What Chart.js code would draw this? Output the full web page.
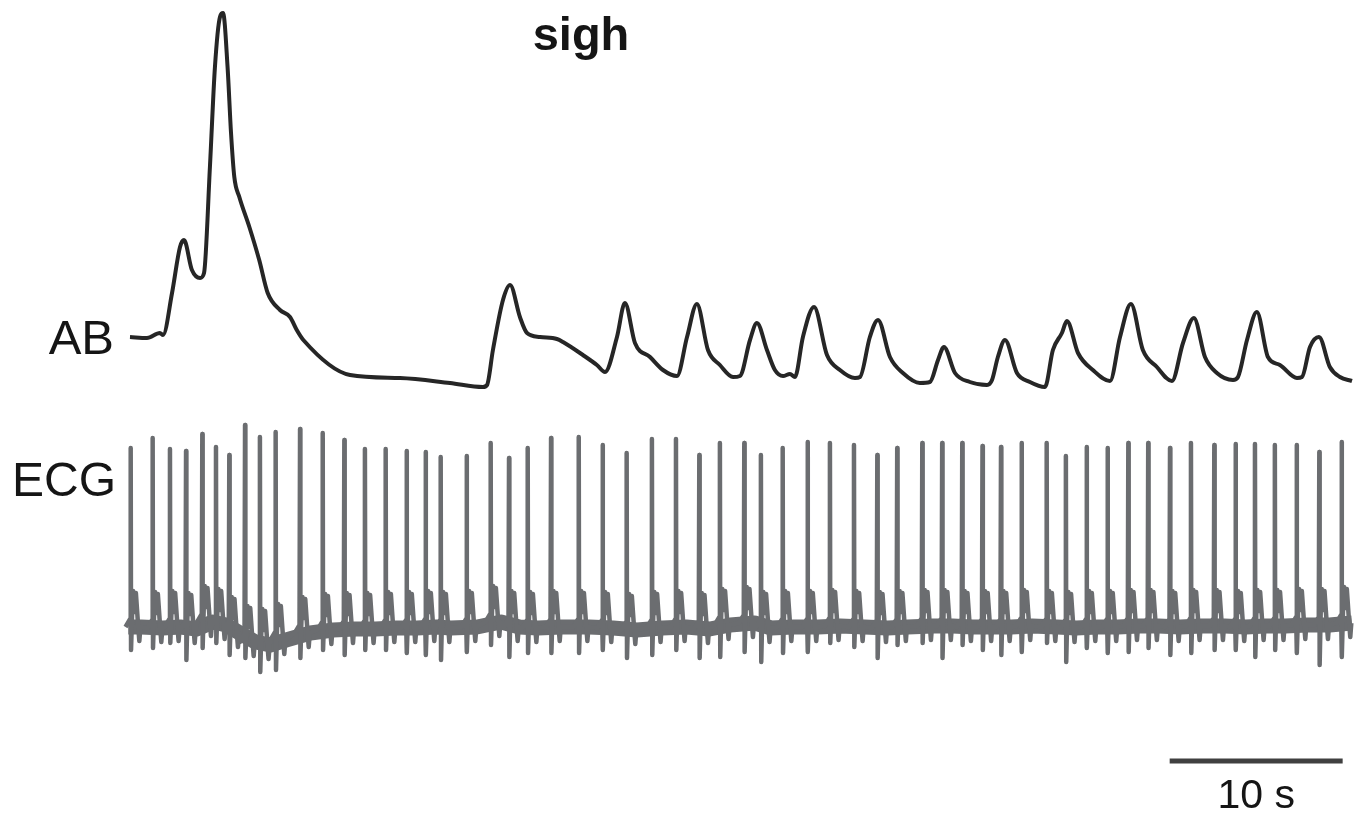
<!DOCTYPE html>
<html>
<head>
<meta charset="utf-8">
<style>
  html, body { margin: 0; padding: 0; background: #ffffff; }
  #wrap { width: 1361px; height: 813px; position: relative; }
</style>
<script src="https://cdn.jsdelivr.net/npm/chart.js@4/dist/chart.umd.min.js"></script>
</head>
<body>
<div id="wrap"><canvas id="c"></canvas></div>
<script>
// ---------- Data (time in seconds, amplitudes in arbitrary units) ----------
const titleText = 'sigh';
const abLabel = 'AB';
const ecgLabel = 'ECG';

// Abdominal (AB) trace
const abTime = [
  0, 0.98, 1.73, 1.91, 2.43, 2.89, 3.12, 3.58, 4.05, 4.28,
  4.62, 4.91, 5.20, 5.38, 5.64, 5.84, 6.03, 6.32, 6.90, 7.47,
  7.96, 8.67, 9.25, 9.64, 10.02, 12.72, 15.61, 18.50, 20.40, 20.64,
  20.98, 21.56, 21.97, 22.54, 22.95, 23.70, 24.68, 25.03, 26.18, 26.99,
  27.46, 28.15, 28.61, 29.19, 30.06, 30.81, 31.62, 32.20, 32.77, 33.41,
  34.10, 34.86, 35.26, 35.84, 36.24, 36.82, 37.28, 37.75, 38.15, 38.44,
  38.90, 39.54, 40.29, 41.04, 41.91, 42.20, 42.77, 43.24, 43.93, 44.68,
  45.66, 46.24, 46.71, 47.05, 47.69, 48.55, 49.54, 49.83, 50.17, 50.58,
  51.27, 52.02, 52.89, 53.35, 53.87, 54.16, 54.80, 55.66, 56.65, 57.23,
  57.86, 58.55, 59.36, 60.23, 60.87, 61.50, 62.14, 62.83, 63.76, 64.05,
  64.57, 65.14, 65.78, 66.47, 67.46, 67.75, 68.21, 68.73, 69.36, 69.94,
  70.64
];
const abValue = [
  4.3, 4.2, 4.7, 4.5, 8.7, 13.3, 14.0, 11.0, 10.2, 10.7,
  21.3, 31.3, 36.3, 36.7, 31.3, 24.7, 20.3, 18.3, 15.3, 12.0,
  8.7, 7.0, 6.3, 5.0, 4.0, 0.5, 0.2, -0.3, -0.7, -0.5,
  3.0, 8.0, 9.5, 6.3, 4.7, 4.3, 4.1, 3.8, 2.5, 1.5,
  0.8, 4.3, 7.7, 3.7, 2.3, 1.0, 0.4, 4.3, 7.6, 3.0,
  1.5, 0.3, 0.4, 4.0, 5.7, 3.0, 1.0, 0.4, 0.6, 0.3,
  4.3, 7.3, 2.5, 1.0, 0.2, 0.3, 4.3, 6.0, 2.3, 0.7,
  -0.3, -0.2, 2.0, 3.3, 0.7, -0.2, -0.5, 0.0, 2.3, 4.0,
  0.7, -0.2, -0.7, 3.0, 4.7, 5.9, 2.7, 1.0, -0.1, 4.3,
  7.6, 3.0, 1.3, -0.1, 3.7, 6.2, 2.3, 0.7, 0.0, 0.3,
  4.0, 6.8, 2.3, 1.5, 0.2, 0.3, 3.3, 4.3, 1.3, 0.3,
  -0.1
];

// ECG beats: R-peak time, R-peak top, S-trough bottom, local baseline
const ecgBeatTime = [
  0.04, 1.31, 2.31, 3.24, 4.18, 4.97, 5.74, 6.65, 7.51, 8.42,
  9.83, 11.14, 12.39, 13.58, 14.78, 15.99, 17.09, 17.96, 19.46, 20.85,
  21.91, 22.99, 24.34, 25.94, 27.32, 28.71, 30.17, 31.56, 32.91, 34.10,
  35.51, 36.47, 37.73, 39.17, 40.46, 41.85, 43.20, 44.35, 45.80, 46.95,
  48.11, 49.28, 50.35, 51.54, 52.99, 54.10, 55.30, 56.51, 57.71, 58.86,
  60.12, 61.33, 62.68, 63.91, 65.03, 66.18, 67.44, 68.75, 70.04
];
const ecgBeatTop = [
  18.2, 19.2, 18.1, 17.9, 19.6, 18.3, 17.5, 20.5, 19.3, 19.8,
  20.1, 19.7, 19.0, 18.1, 18.1, 17.9, 17.8, 17.3, 17.4, 18.7,
  17.2, 18.2, 19.2, 19.3, 18.5, 17.7, 19.1, 19.1, 17.5, 18.7,
  18.7, 17.5, 18.2, 18.8, 18.7, 18.5, 17.5, 18.2, 18.7, 18.7,
  18.7, 18.4, 18.3, 18.7, 18.7, 17.4, 18.3, 18.2, 18.7, 18.7,
  18.2, 18.7, 18.5, 18.6, 18.6, 18.5, 18.5, 17.8, 18.8
];
const ecgBeatBottom = [
  -2.0, -1.8, -1.3, -3.0, -1.8, -1.3, -2.5, -2.8, -4.2, -4.0,
  -2.8, -2.0, -2.5, -2.0, -2.0, -2.3, -2.5, -3.0, -2.2, -1.5,
  -2.7, -2.3, -2.3, -2.3, -2.0, -2.8, -2.5, -2.0, -2.8, -2.7,
  -2.2, -3.2, -2.3, -2.2, -1.3, -1.7, -2.8, -1.5, -1.3, -2.8,
  -1.5, -2.0, -2.5, -2.2, -1.3, -3.2, -1.8, -2.3, -2.2, -1.8,
  -2.5, -2.3, -2.0, -2.0, -2.7, -2.0, -2.3, -3.5, -2.7
];
const ecgBeatBase = [
  0.3, 0.2, 0.3, 0.1, 0.8, 0.5, -0.3, -1.2, -1.5, -1.0,
  -0.3, 0.0, 0.1, 0.1, 0.2, 0.2, 0.3, 0.2, 0.3, 0.8,
  0.3, 0.2, 0.3, 0.3, 0.2, 0.0, 0.2, 0.3, 0.1, 0.5,
  0.7, 0.2, 0.3, 0.3, 0.4, 0.3, 0.2, 0.3, 0.4, 0.4,
  0.3, 0.3, 0.3, 0.4, 0.3, 0.2, 0.3, 0.3, 0.4, 0.4,
  0.3, 0.4, 0.4, 0.3, 0.4, 0.4, 0.5, 0.5, 0.7
];

// 10 s scale bar
const scaleBarTime = [60.1, 70.1];
const scaleBarLabel = '10 s';

// ---------- Build library tables ----------
const abPoints = abTime.map((t, i) => ({ x: t, y: abValue[i] }));

const ecgPoints = [];
ecgBeatTime.forEach((t, i) => {
  const b = ecgBeatBase[i];
  ecgPoints.push({ x: t - 0.30, y: b });
  ecgPoints.push({ x: t - 0.03, y: b + 0.8 });
  ecgPoints.push({ x: t, y: ecgBeatTop[i] });
  ecgPoints.push({ x: t + 0.02, y: ecgBeatBottom[i] });
  ecgPoints.push({ x: t + 0.08, y: b + 1.2 });
  ecgPoints.push({ x: t + 0.14, y: b + 3.6 });
  ecgPoints.push({ x: t + 0.22, y: b + 1.5 });
  ecgPoints.push({ x: t + 0.30, y: b + 3.4 });
  ecgPoints.push({ x: t + 0.42, y: b + 0.4 });
  ecgPoints.push({ x: t + 0.50, y: b - 1.4 });
  ecgPoints.push({ x: t + 0.56, y: b });
});
const ecgBand = ecgBeatTime.map((t, i) => ({ x: t + 0.6, y: ecgBeatBase[i] }));
ecgBand.unshift({ x: -0.1, y: ecgBeatBase[0] });

const scaleBarPoints = scaleBarTime.map(t => ({ x: t, y: -13.1 }));

// ---------- Text plugin ----------
const textPlugin = {
  id: 'texts',
  afterDatasetsDraw(chart) {
    const ctx = chart.ctx;
    const xs = chart.scales.x;
    ctx.save();
    ctx.fillStyle = '#151515';
    ctx.textBaseline = 'alphabetic';
    ctx.font = 'bold 47px "Liberation Sans", Arial, sans-serif';
    ctx.textAlign = 'center';
    ctx.fillText(titleText, 581, 50);
    ctx.font = '49px "Liberation Sans", Arial, sans-serif';
    ctx.textAlign = 'right';
    ctx.fillText(abLabel, 114, 354);
    ctx.font = '48px "Liberation Sans", Arial, sans-serif';
    ctx.fillText(ecgLabel, 116, 496);
    ctx.font = '41px "Liberation Sans", Arial, sans-serif';
    ctx.textAlign = 'center';
    ctx.fillText(scaleBarLabel, xs.getPixelForValue((scaleBarTime[0] + scaleBarTime[1]) / 2), 808);
    ctx.restore();
  }
};

new Chart(document.getElementById('c'), {
  type: 'line',
  data: {
    datasets: [
      { label: 'ECG band', data: ecgBand, yAxisID: 'yECG', borderColor: '#6b6d70', borderWidth: 15,
        pointRadius: 0, tension: 0, clip: false, order: 3 },
      { label: 'ECG', data: ecgPoints, yAxisID: 'yECG', borderColor: '#6b6d70', borderWidth: 4.5,
        pointRadius: 0, tension: 0, clip: false, order: 2 },
      { label: 'AB', data: abPoints, yAxisID: 'yAB', borderColor: '#262626', borderWidth: 4,
        pointRadius: 0, cubicInterpolationMode: 'monotone', clip: false, order: 1 },
      { label: 'scale', data: scaleBarPoints, yAxisID: 'yECG', borderColor: '#404040', borderWidth: 5,
        pointRadius: 0, clip: false, order: 0, borderCapStyle: 'butt' }
    ]
  },
  options: {
    responsive: true,
    maintainAspectRatio: false,
    animation: false,
    layout: { padding: { left: 130, right: 0, top: 0, bottom: 0 } },
    plugins: { legend: { display: false }, tooltip: { enabled: false }, title: { display: false } },
    scales: {
      x: { type: 'linear', min: 0, max: 71.16, display: false },
      yAB: { type: 'linear', min: -43.3, max: 38.0, display: false },
      yECG: { type: 'linear', min: -18.3, max: 63.0, display: false }
    },
    elements: { line: { borderJoinStyle: 'round' } }
  },
  plugins: [textPlugin]
});
</script>
</body>
</html>
